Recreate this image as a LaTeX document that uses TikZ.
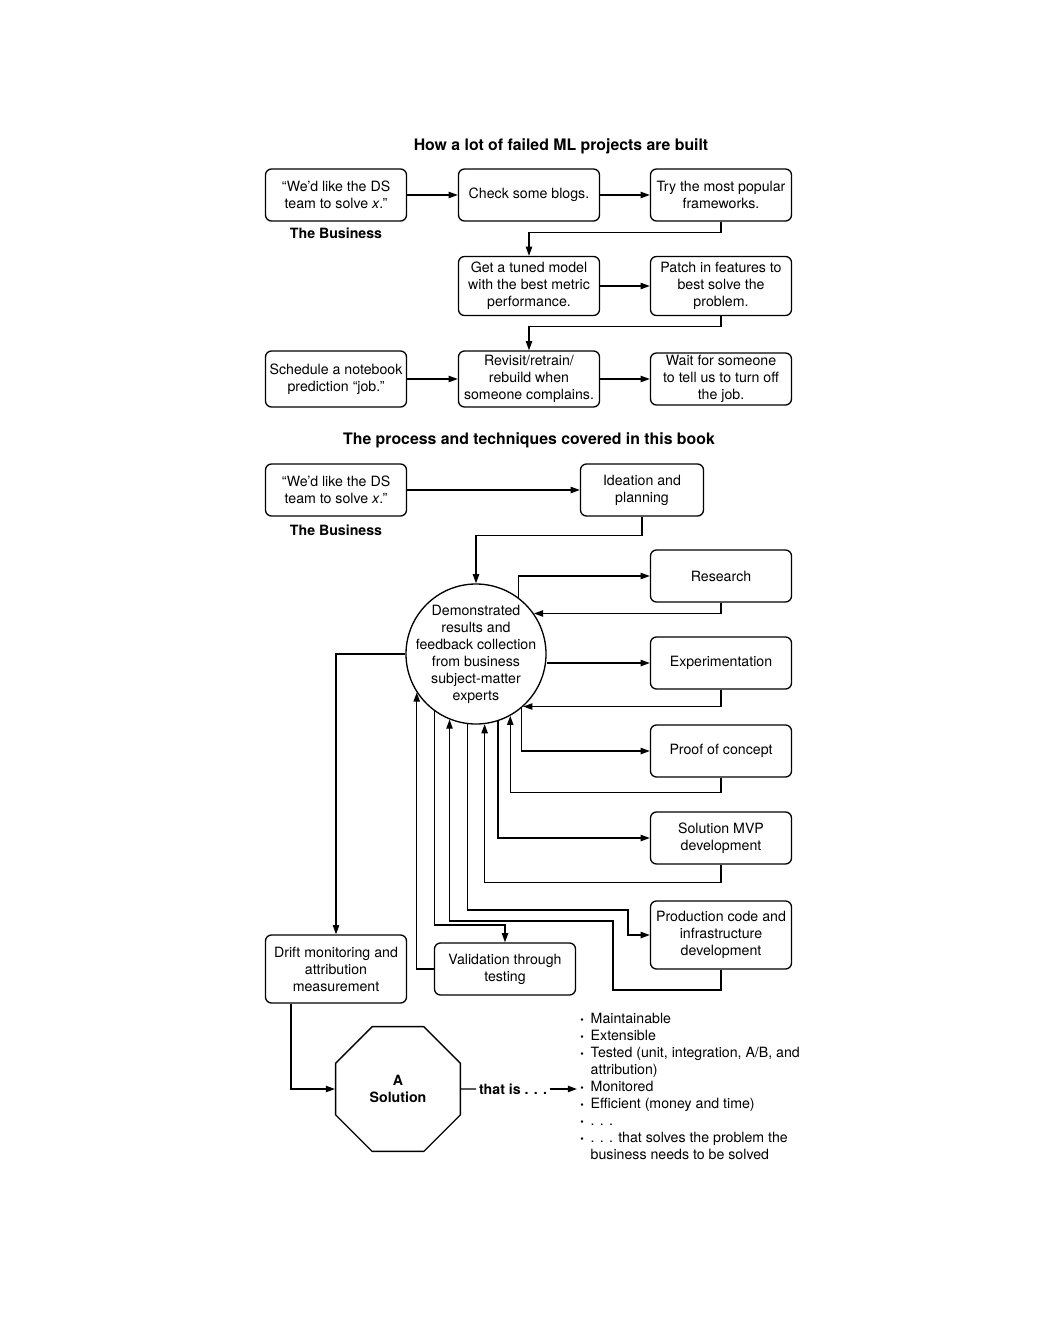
\documentclass[tikz,border=0pt]{standalone}
\usepackage{fontspec}
\setmainfont{TeX Gyre Heros}
\usetikzlibrary{arrows.meta, shapes.geometric}

\tikzset{
  box/.style={draw, line width=0.8pt, rounded corners=3.6pt, minimum width=84.6pt,
    minimum height=31.2pt, align=center, inner sep=1pt},
  arr/.style={line width=0.8pt, -{Triangle[length=5.5pt,width=3.8pt]}},
  conn/.style={line width=0.8pt},
  heading/.style={font=\fontsize{9.5}{11}\selectfont\bfseries},
  owner/.style={font=\fontsize{8.5}{10.2}\selectfont\bfseries}
}
\newcommand{\bul}{\makebox[1.4ex][l]{\fontsize{6}{6}\selectfont\textbullet}}

\begin{document}
\begin{tikzpicture}[x=0.6pt, y=-0.6pt, every node/.style={font=\fontsize{8.5}{10.2}\selectfont}]
	\useasboundingbox (0,0) rectangle (1062,1332);

	% Failed projects
	\node[heading] (fail) at (561,146) {How a lot of failed ML projects are built};

	\node[box] (ask1) at (336,195) {“We'd like the DS\\team to solve \textit{x}."};
	\node[owner] (biz1) at (336,233) {The Business};
	\node[box] (blogs) at (529,195) {Check some blogs.};
	\node[box] (frame) at (721,195) {Try the most popular\\frameworks.};

	\node[box, minimum height=35.4pt] (tuned) at (529,286) {Get a tuned model\\with the best metric\\performance.};
	\node[box, minimum height=35.4pt] (patch) at (721,286) {Patch in features to\\best solve the\\problem.};

	\node[box, minimum height=33.6pt] (sched) at (336,379) {Schedule a notebook\\prediction “job."};
	\node[box, minimum height=33.6pt] (revisit) at (529,379) {Revisit/retrain/\\rebuild when\\someone complains.};
	\node[box] (wait) at (721,379) {Wait for someone\\to tell us to turn off\\the job.};

	\draw[arr] (ask1.east) -- (blogs.west);
	\draw[arr] (blogs.east) -- (frame.west);
	\draw[arr] (frame.south) -- ++(0,11) -| (tuned.north);
	\draw[arr] (tuned.east) -- (patch.west);
	\draw[arr] (patch.south) -- ++(0,10) -| (revisit.north);
	\draw[arr] (sched.east) -- (revisit.west);
	\draw[arr] (revisit.east) -- (wait.west);

	% This book
	\node[heading] (book) at (529,440) {The process and techniques covered in this book};

	\node[box] (ask2) at (336,490) {“We'd like the DS\\team to solve \textit{x}."};
	\node[owner] (biz2) at (336,530) {The Business};
	\node[box, minimum width=73.8pt] (idea) at (642,490) {Ideation and\\planning};

	\node[draw, circle, line width=0.8pt, minimum size=84pt, inner sep=-5.4pt, align=center] (demo) at (476,654)
		{Demonstrated\\results and\\feedback collection\\from business\\subject-matter\\experts};

	\node[box] (research) at (721,576) {Research};
	\node[box] (exper) at (721,663) {Experimentation};
	\node[box] (poc) at (721,751) {Proof of concept};
	\node[box] (mvp) at (721,838) {Solution MVP\\development};
	\node[box, minimum height=40.8pt] (prod) at (721,935) {Production code and\\infrastructure\\development};
	\node[box] (valid) at (505,969) {Validation through\\testing};
	\node[box, minimum height=40.8pt] (drift) at (336,969) {Drift monitoring and\\attribution\\measurement};

	\node[draw, regular polygon, regular polygon sides=8, line width=0.8pt, minimum size=81pt,
		inner sep=0pt, align=center, font=\fontsize{8.5}{10.2}\selectfont\bfseries] (sol) at (398,1089) {A\\Solution};
	\node[font=\fontsize{8.5}{10.2}\selectfont\bfseries, inner sep=1.5pt] (thatis) at (513,1089) {that is . . .};
	\coordinate (listin) at (577,1089);
	\node[anchor=north west, inner sep=0pt, align=left] (props) at (580,1013)
		{\bul Maintainable\\
		 \bul Extensible\\
		 \bul Tested (unit, integration, A/B, and\\
		 \hphantom{\bul}attribution)\\
		 \bul Monitored\\
		 \bul Efficient (money and time)\\
		 \bul . . .\\
		 \bul . . . that solves the problem the\\
		 \hphantom{\bul}business needs to be solved};

	\draw[arr] (ask2.east) -- (idea.west);
	\draw[arr] (idea.south) -- ++(0,19) -| (demo.north);

	\draw[arr] (demo.53) |- (research.west);
	\draw[arr] (research.south) |- (demo.35);
	\draw[arr] (exper.west -| demo.east) -- (exper.west);
	\draw[arr] (exper.south) |- (demo.-48);
	\draw[arr] (demo.-50) |- (poc.west);
	\draw[arr] (poc.south) -- ++(0,15) -| (demo.-61);
	\draw[arr] (demo.-72) |- (mvp.west);
	\draw[arr] (mvp.south) -- ++(0,18) -| (demo.-83);
	\draw[arr] (demo.-97) |- (628,910) |- (prod.west);
	\draw[arr] (prod.south) |- (613,990) -- (613,921) -| (demo.-112);
	\draw[arr] (demo.-126) |- (505,925) -- (valid.north);
	\draw[arr] (valid.west) -| (demo.-147.5);
	\draw[arr] (demo.west) -| (drift.north);

	\draw[arr] ([xshift=-27pt]drift.south) |- (sol.west);
	\draw[conn] (sol.east) -- (thatis.west);
	\draw[arr] (thatis.east) -- (listin);
\end{tikzpicture}
\end{document}
